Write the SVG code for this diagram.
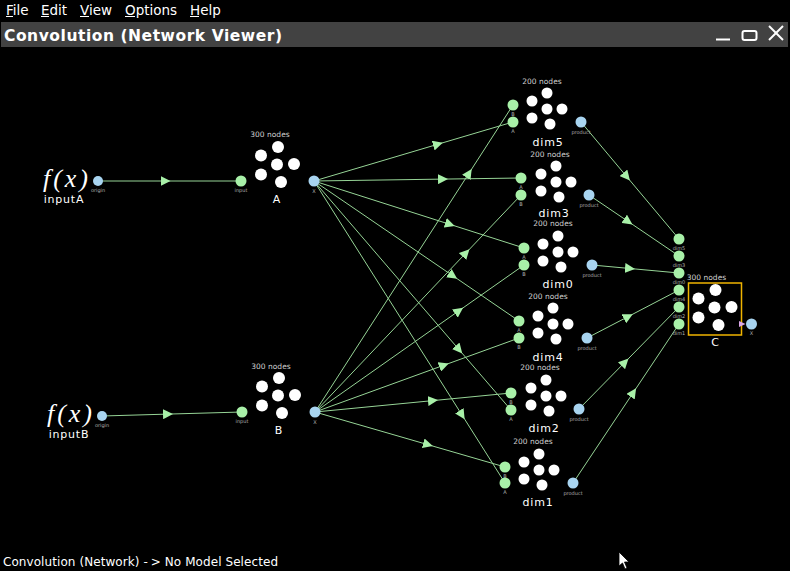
<svg xmlns="http://www.w3.org/2000/svg" width="790" height="571" viewBox="0 0 790 571">
<style>
.menu{font-family:"DejaVu Sans",sans-serif;font-size:13.5px;fill:#fff}
.title{font-family:"DejaVu Sans",sans-serif;font-size:15.5px;font-weight:bold;fill:#fff}
.status{font-family:"DejaVu Sans",sans-serif;font-size:12px;fill:#fff}
.lbl{font-family:"DejaVu Sans",sans-serif;font-size:11px;fill:#fff;text-anchor:middle;letter-spacing:0.8px}
.cnt{font-family:"DejaVu Sans",sans-serif;font-size:7.5px;fill:#d0d0d0;text-anchor:middle}
.pl{font-family:"DejaVu Sans",sans-serif;font-size:5px;fill:#b0b0b0;text-anchor:middle}
.fx{font-family:"Liberation Serif","DejaVu Serif",serif;font-style:italic;font-size:26px;fill:#fff}
.term{fill:#a8f0a8}
.orig{fill:#a8d4f0}
.conn{fill:none;stroke:#96d496;stroke-width:1}
.ens{fill:#fff}
</style>
<defs>
<marker id="arr" viewBox="0 0 10 10" refX="5" refY="5" markerWidth="10" markerHeight="10" markerUnits="userSpaceOnUse" orient="auto">
<path d="M0,0 L10,5 L0,10 Z" fill="#a8f0a8"/>
</marker>
<g id="c200" class="ens">
<circle cx="0" cy="0" r="5.5"/><circle cx="-15" cy="8" r="5.5"/><circle cx="0" cy="16" r="5.5"/>
<circle cx="15" cy="16" r="5.5"/><circle cx="-15" cy="25" r="5.5"/><circle cx="3" cy="31" r="5.5"/>
</g>
<g id="c300" class="ens">
<circle cx="0" cy="0" r="6"/><circle cx="-17" cy="8.5" r="6"/><circle cx="-1" cy="17.5" r="6"/>
<circle cx="16" cy="17" r="6"/><circle cx="-17" cy="27.5" r="6"/><circle cx="3" cy="35" r="6"/>
</g>
</defs>
<rect x="0" y="0" width="790" height="571" fill="#000"/>
<g id="menubar">
<text class="menu" x="6" y="15">File</text>
<text class="menu" x="41" y="15">Edit</text>
<text class="menu" x="80" y="15">View</text>
<text class="menu" x="125" y="15">Options</text>
<text class="menu" x="190" y="15">Help</text>
<g stroke="#fff" stroke-width="1">
<line x1="6" y1="16.5" x2="13" y2="16.5"/><line x1="41" y1="16.5" x2="49" y2="16.5"/>
<line x1="80" y1="16.5" x2="89" y2="16.5"/><line x1="125" y1="16.5" x2="135" y2="16.5"/>
<line x1="190" y1="16.5" x2="199" y2="16.5"/>
</g>
</g>
<g id="titlebar">
<rect x="1" y="22" width="787" height="25" fill="#424242"/>
<text class="title" x="4" y="40.5" textLength="278">Convolution (Network Viewer)</text>
<g stroke="#fff" stroke-width="2" fill="none">
<line x1="716" y1="39.5" x2="730" y2="39.5"/>
<rect x="742.5" y="31" width="14" height="9" rx="2"/>
<line x1="769" y1="26" x2="783" y2="40"/><line x1="783" y1="26" x2="769" y2="40"/>
</g>
</g>
<g id="connectors">
<path class="conn" marker-mid="url(#arr)" d="M98,181 L165.5,181 L241,181"/>
<path class="conn" marker-mid="url(#arr)" d="M102,416 L168,414.1 L242,412"/>
<path class="conn" marker-mid="url(#arr)" d="M314,181 L438,144.2 L513,122"/>
<path class="conn" marker-mid="url(#arr)" d="M314,181 L443,179.1 L521,178"/>
<path class="conn" marker-mid="url(#arr)" d="M314,181 L450,224.4 L524,248"/>
<path class="conn" marker-mid="url(#arr)" d="M314,181 L453,275.9 L519,321"/>
<path class="conn" marker-mid="url(#arr)" d="M314,181 L459,349.6 L511,410"/>
<path class="conn" marker-mid="url(#arr)" d="M314,181 L462,415 L505,483"/>
<path class="conn" marker-mid="url(#arr)" d="M315,412 L469,173.2 L513,105"/>
<path class="conn" marker-mid="url(#arr)" d="M315,412 L466,252.9 L521,195"/>
<path class="conn" marker-mid="url(#arr)" d="M315,412 L459,310.7 L524,265"/>
<path class="conn" marker-mid="url(#arr)" d="M315,412 L444,365.2 L519,338"/>
<path class="conn" marker-mid="url(#arr)" d="M315,412 L433,400.6 L511,393"/>
<path class="conn" marker-mid="url(#arr)" d="M315,412 L428,444.7 L505,467"/>
<path class="conn" marker-mid="url(#arr)" d="M581,122 L626.7,176.6 L679,239"/>
<path class="conn" marker-mid="url(#arr)" d="M589,195 L628.3,221.6 L679,256"/>
<path class="conn" marker-mid="url(#arr)" d="M592,265 L630,268.5 L679,273"/>
<path class="conn" marker-mid="url(#arr)" d="M587,338 L628.3,316.5 L679,290"/>
<path class="conn" marker-mid="url(#arr)" d="M579,409 L625,362.1 L679,307"/>
<path class="conn" marker-mid="url(#arr)" d="M573,483 L633.3,392.5 L679,324"/>
</g>
<g id="inputA">
<text class="fx" x="43" y="187" textLength="45">f(x)</text>
<text class="lbl" x="64" y="203">inputA</text>
<circle class="orig" cx="98" cy="181" r="5"/>
<text class="pl" x="98" y="192">origin</text>
</g>
<g id="inputB">
<text class="fx" x="47" y="422" textLength="45">f(x)</text>
<text class="lbl" x="69" y="438">inputB</text>
<circle class="orig" cx="102" cy="416" r="5"/>
<text class="pl" x="102" y="427">origin</text>
</g>
<g id="A">
<text class="cnt" x="270" y="137">300 nodes</text>
<use href="#c300" x="278" y="147"/>
<text class="lbl" x="277" y="203">A</text>
<circle class="term" cx="241" cy="181" r="5.5"/>
<text class="pl" x="241" y="192">input</text>
<circle class="orig" cx="314" cy="181" r="5.5"/>
<text class="pl" x="314" y="193">X</text>
</g>
<g id="B">
<text class="cnt" x="271" y="369">300 nodes</text>
<use href="#c300" x="279" y="378"/>
<text class="lbl" x="279" y="434">B</text>
<circle class="term" cx="242" cy="412" r="5.5"/>
<text class="pl" x="242" y="423">input</text>
<circle class="orig" cx="315" cy="412" r="5.5"/>
<text class="pl" x="315" y="424">X</text>
</g>
<g id="dim5">
<text class="cnt" x="542" y="83.5">200 nodes</text>
<use href="#c200" x="547" y="93"/>
<text class="lbl" x="548" y="146">dim5</text>
<circle class="term" cx="513" cy="105" r="5.5"/><text class="pl" x="513" y="116">B</text>
<circle class="term" cx="513" cy="122" r="5.5"/><text class="pl" x="513" y="133">A</text>
<circle class="orig" cx="581" cy="122" r="5.5"/><text class="pl" x="581" y="133.5">product</text>
</g>
<g id="dim3">
<text class="cnt" x="550" y="157">200 nodes</text>
<use href="#c200" x="556" y="166"/>
<text class="lbl" x="554" y="217">dim3</text>
<circle class="term" cx="521" cy="178" r="5.5"/><text class="pl" x="521" y="189">A</text>
<circle class="term" cx="521" cy="195" r="5.5"/><text class="pl" x="521" y="206">B</text>
<circle class="orig" cx="589" cy="195" r="5.5"/><text class="pl" x="589" y="206.5">product</text>
</g>
<g id="dim0">
<text class="cnt" x="553" y="226">200 nodes</text>
<use href="#c200" x="558" y="236"/>
<text class="lbl" x="558" y="288">dim0</text>
<circle class="term" cx="524" cy="248" r="5.5"/><text class="pl" x="524" y="259">A</text>
<circle class="term" cx="524" cy="265" r="5.5"/><text class="pl" x="524" y="276">B</text>
<circle class="orig" cx="592" cy="265" r="5.5"/><text class="pl" x="592" y="276.5">product</text>
</g>
<g id="dim4">
<text class="cnt" x="548" y="299">200 nodes</text>
<use href="#c200" x="553" y="308"/>
<text class="lbl" x="548" y="361">dim4</text>
<circle class="term" cx="519" cy="321" r="5.5"/><text class="pl" x="519" y="332">A</text>
<circle class="term" cx="519" cy="338" r="5.5"/><text class="pl" x="519" y="349">B</text>
<circle class="orig" cx="587" cy="338" r="5.5"/><text class="pl" x="587" y="349.5">product</text>
</g>
<g id="dim2">
<text class="cnt" x="540" y="370">200 nodes</text>
<use href="#c200" x="546" y="380"/>
<text class="lbl" x="544" y="432">dim2</text>
<circle class="term" cx="511" cy="393" r="5.5"/><text class="pl" x="511" y="404">B</text>
<circle class="term" cx="511" cy="410" r="5.5"/><text class="pl" x="511" y="421">A</text>
<circle class="orig" cx="579" cy="409" r="5.5"/><text class="pl" x="579" y="420.5">product</text>
</g>
<g id="dim1">
<text class="cnt" x="533" y="444">200 nodes</text>
<use href="#c200" x="539" y="454"/>
<text class="lbl" x="538" y="506">dim1</text>
<circle class="term" cx="505" cy="467" r="5.5"/><text class="pl" x="505" y="478">B</text>
<circle class="term" cx="505" cy="483" r="5.5"/><text class="pl" x="505" y="494">A</text>
<circle class="orig" cx="573" cy="483" r="5.5"/><text class="pl" x="573" y="494.5">product</text>
</g>
<g id="C">
<text class="cnt" x="706.5" y="280">300 nodes</text>
<rect x="688.5" y="283" width="53" height="52" fill="none" stroke="#f0b400" stroke-width="1.5"/>
<use href="#c300" x="715.5" y="290"/>
<text class="lbl" x="715.5" y="346">C</text>
<circle class="term" cx="679" cy="239" r="5.5"/><text class="pl" x="679" y="250">dim5</text>
<circle class="term" cx="679" cy="256" r="5.5"/><text class="pl" x="679" y="267">dim3</text>
<circle class="term" cx="679" cy="273" r="5.5"/><text class="pl" x="679" y="284">dim0</text>
<circle class="term" cx="679" cy="290" r="5.5"/><text class="pl" x="679" y="301">dim4</text>
<circle class="term" cx="679" cy="307" r="5.5"/><text class="pl" x="679" y="318">dim2</text>
<circle class="term" cx="679" cy="324" r="5.5"/><text class="pl" x="679" y="335">dim1</text>
<polygon points="739,321 745.5,324 739,327" fill="#d9a6e8"/>
<circle class="orig" cx="751.5" cy="324" r="5.5"/>
<text class="pl" x="751.5" y="335">X</text>
</g>
<g id="statusbar">
<text class="status" x="3" y="566" textLength="275">Convolution (Network) -<tspan dx="3">&gt;</tspan> No Model Selected</text>
</g>
<polygon points="619,552 619,566 622.5,563 625,569 627,568 624.5,562 629,562" fill="#fff" stroke="#000" stroke-width="0.8"/>
</svg>
